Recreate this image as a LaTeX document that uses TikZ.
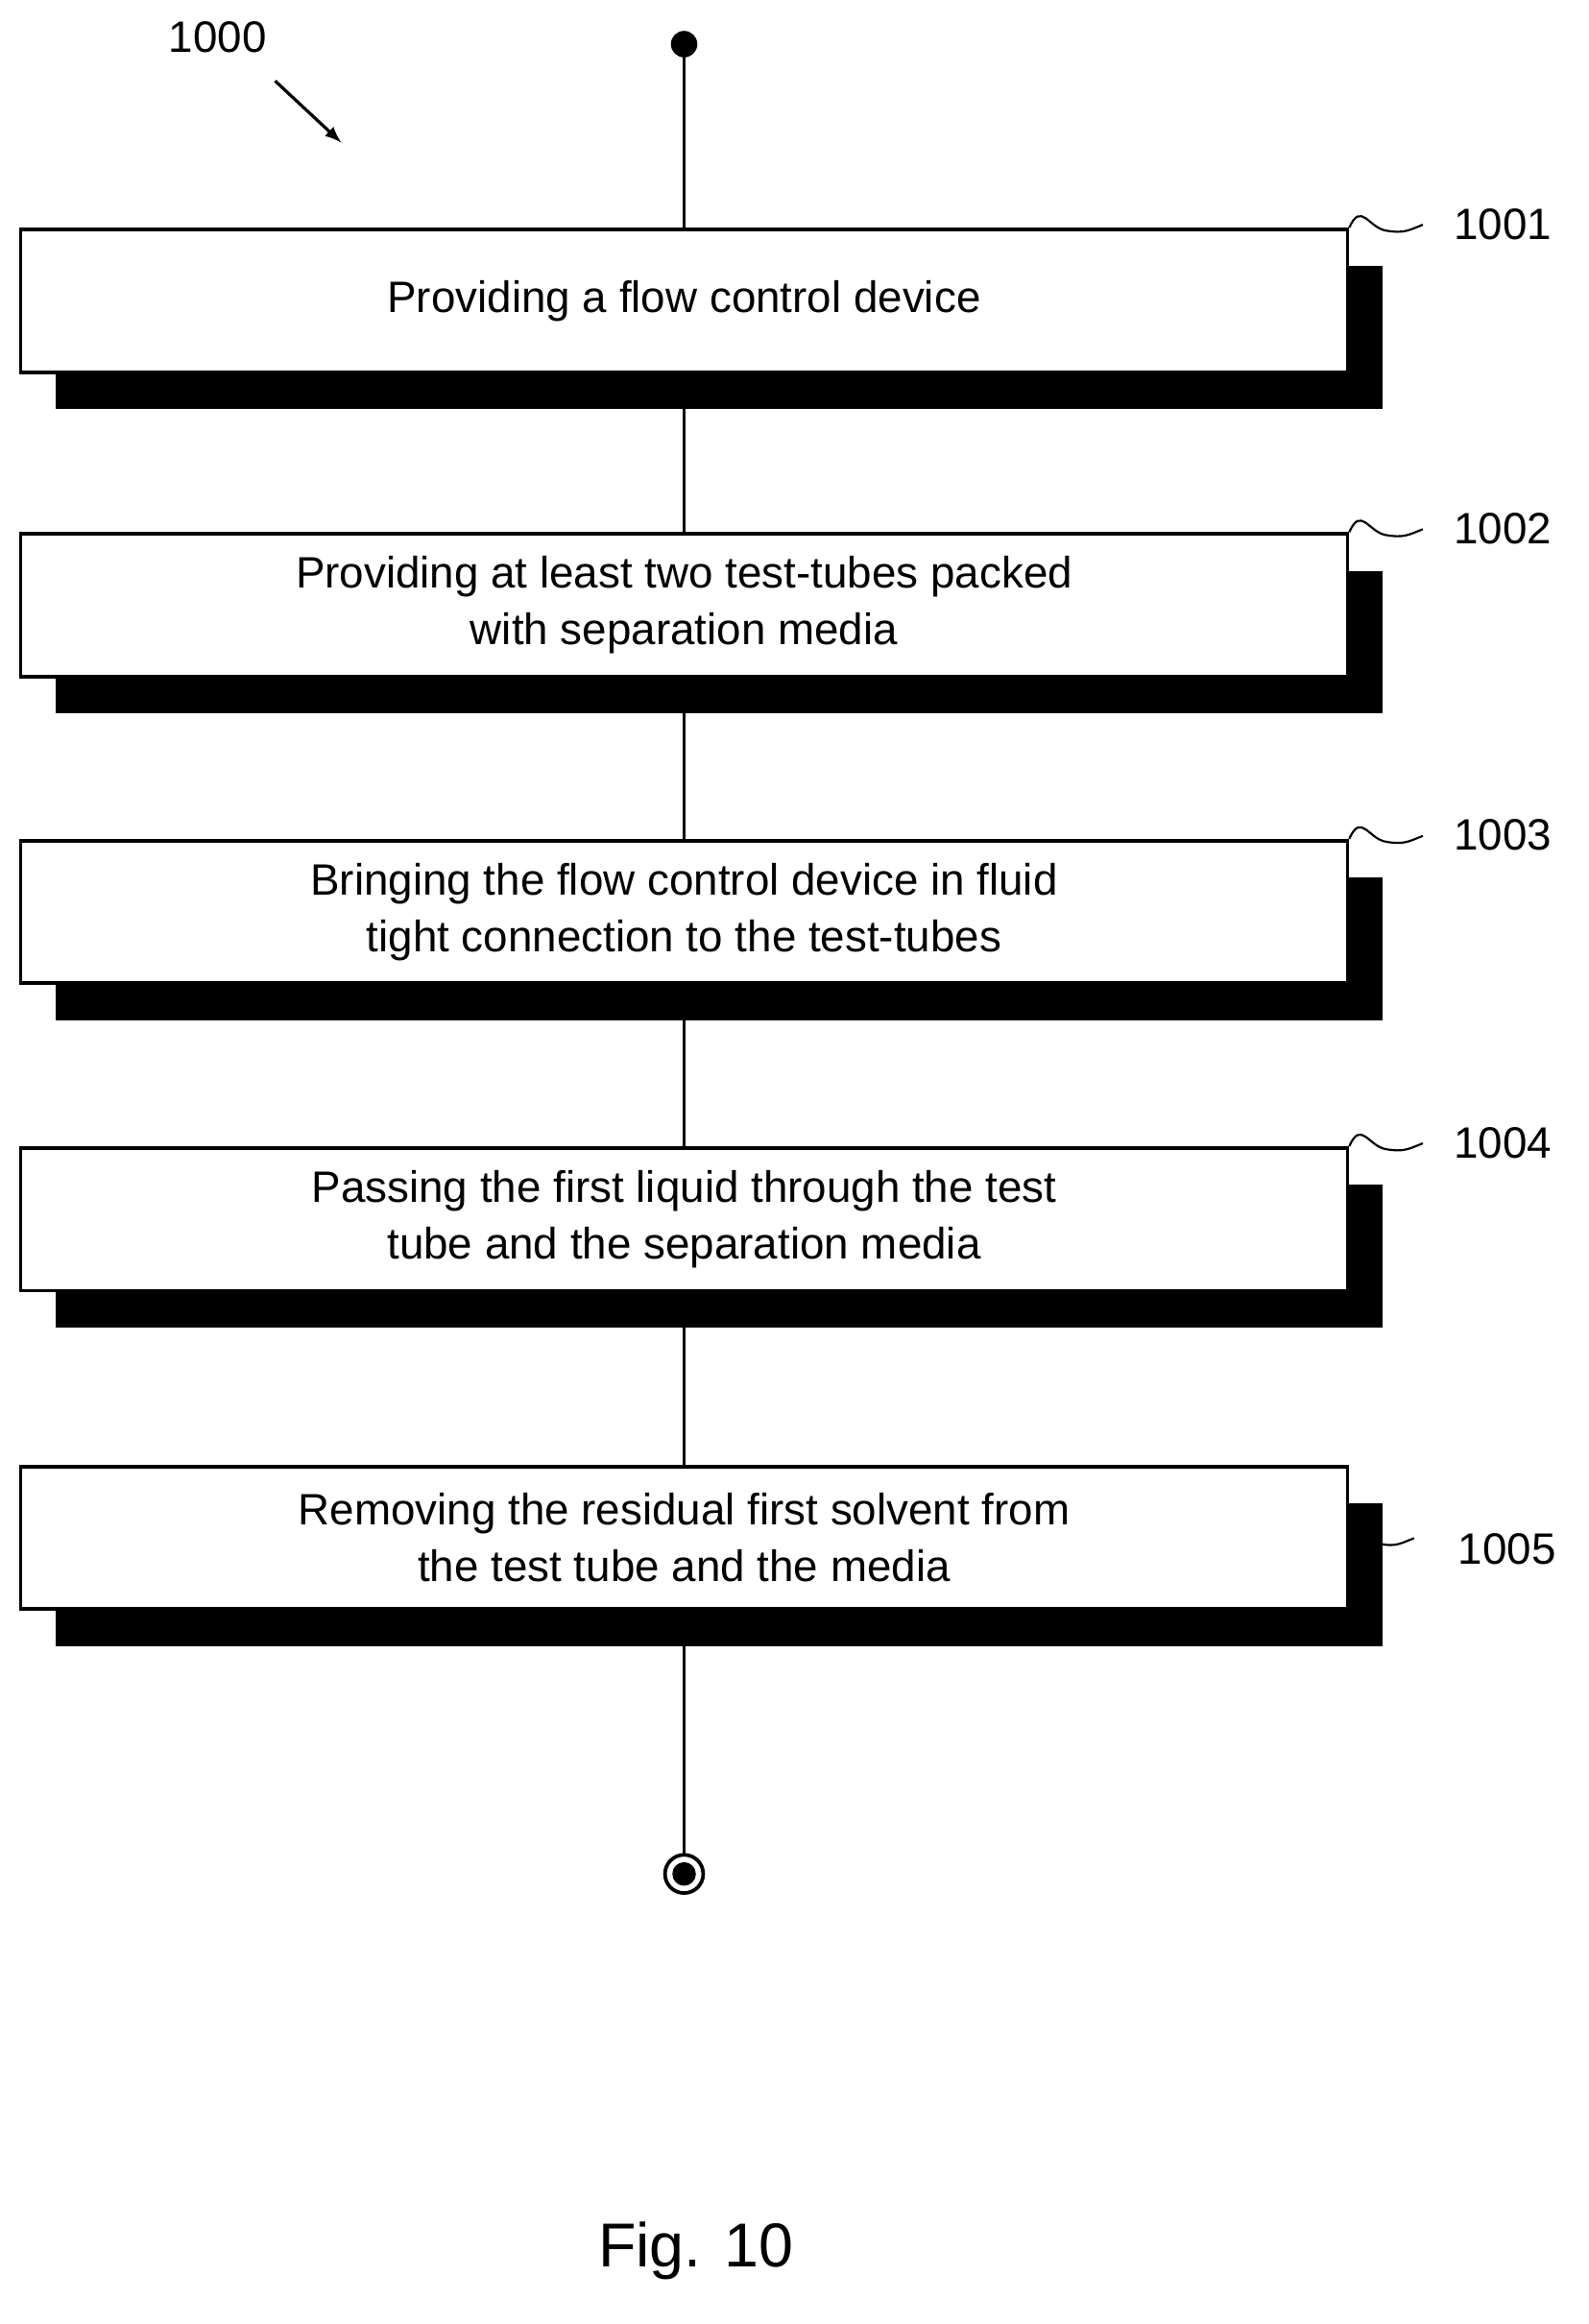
\documentclass[tikz,border=0pt]{standalone}
\usepackage{fontspec}
\setmainfont{Liberation Sans}
\usetikzlibrary{shadows}
\tikzset{
  stepbox/.style={draw, line width=1.4pt, fill=white, minimum width=18.04cm,
    minimum height=1.94cm, align=center, inner sep=0pt,
    font=\fontsize{17}{22}\selectfont,
    drop shadow={shadow xshift=0.48cm, shadow yshift=-0.5cm, fill=black, opacity=1}},
  tag/.style={font=\fontsize{17}{20}\selectfont},
  wig/.style={line width=0.8pt}
}
\begin{document}
\begin{tikzpicture}[x=0.02cm,y=-0.02cm]
  \useasboundingbox (0,0) rectangle (1080,1580);
  % start and end
  \fill (465,30) circle (9) coordinate (start);
  \coordinate (stop) at (465,1274);
  % steps
  \draw[line width=1.4pt] (start) -- (stop);
  \node[stepbox] (s1) at (465,204.5) {Providing a flow control device};
  \node[stepbox] (s2) at (465,411.5) {Providing at least two test-tubes packed\\with separation media};
  \node[stepbox] (s3) at (465,620) {Bringing the flow control device in fluid\\tight connection to the test-tubes};
  \node[stepbox] (s4) at (465,829) {Passing the first liquid through the test\\tube and the separation media};
  \node[stepbox] (s5) at (465,1045.5) {Removing the residual first solvent from\\the test tube and the media};
  \draw[line width=1.4pt, fill=white] (stop) circle (13);
  \fill (stop) circle (8);
  % reference numerals
  \foreach \n/\t in {s1/1001, s2/1002, s3/1003, s4/1004} {
    \draw[wig] (\n.north east) .. controls +(8,-18) and +(-12,-2) .. ++(25,2)
      .. controls +(12,2) and +(-10,4) .. ++(25,-4);
    \node[tag, anchor=west] at ([xshift=1.3cm, yshift=0.05cm]\n.north east) {\t};
  }
  \draw[wig] ([yshift=-1.0cm]s5.north east) .. controls +(8,-14) and +(-10,-2) .. ++(22,4)
    .. controls +(10,2) and +(-8,3) .. ++(22,-4);
  \node[tag, anchor=west] (n5) at (985,1053) {1005};
  \node[tag] (n0) at (148,25) {1000};
  \coordinate (a0) at (187,55);
  \coordinate (a1) at (232,97);
  \draw[-latex, line width=1.2pt] (a0) -- (a1);
  \node[font=\fontsize{24}{28}\selectfont] (fig) at (473,1530) {Fig. 10};
\end{tikzpicture}
\end{document}
